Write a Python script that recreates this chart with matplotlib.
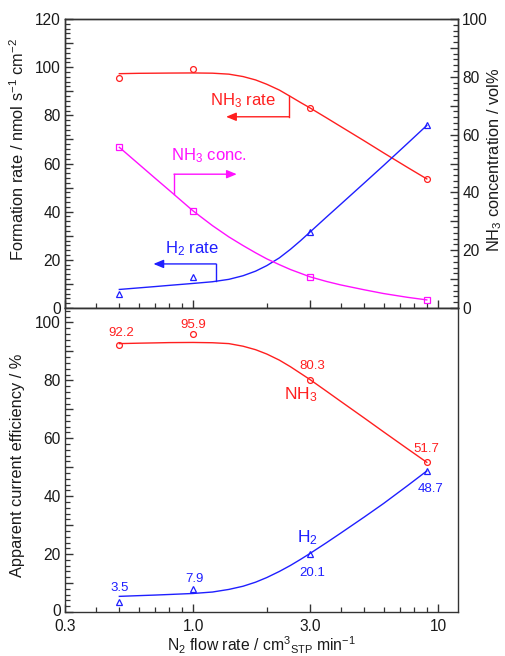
import numpy as np
import matplotlib
matplotlib.use('Agg')
import matplotlib.pyplot as plt
from matplotlib.ticker import FixedLocator, FixedFormatter, NullFormatter, MultipleLocator

plt.rcParams['font.family'] = ['Liberation Sans', 'DejaVu Sans']
plt.rcParams['mathtext.fontset'] = 'custom'
plt.rcParams['mathtext.rm'] = 'Liberation Sans'
plt.rcParams['mathtext.it'] = 'Liberation Sans:italic'
plt.rcParams['mathtext.bf'] = 'Liberation Sans:bold'

# ---------------- data ----------------
flow = [0.5, 1.0, 3.0, 9.0]
nh3_rate = [95.4, 99.3, 83.2, 53.6]
h2_rate = [5.8, 12.7, 31.5, 75.8]
nh3_conc = [55.6, 33.6, 10.8, 2.8]
nh3_eff = [92.2, 95.9, 80.3, 51.7]
h2_eff = [3.5, 7.9, 20.1, 48.7]
nh3_eff_labels = ["92.2", "95.9", "80.3", "51.7"]
h2_eff_labels = ["3.5", "7.9", "20.1", "48.7"]

# fitted curves
fit_x = [0.5, 0.6, 0.7, 0.8, 1.0, 1.2, 1.4, 1.6, 1.8, 2.0, 2.25, 2.5, 2.75,
         3.0, 3.5, 4.0, 5.0, 6.0, 7.5, 9.0]
nh3_rate_fit = [97.3, 97.45, 97.5, 97.55, 97.6, 97.5, 97.1, 96.1, 94.7, 92.9,
                90.5, 87.8, 85.3, 83.1, 79.0, 75.4, 69.4, 64.4, 58.4, 53.6]
h2_rate_fit = [7.7, 8.35, 8.9, 9.4, 10.2, 10.9, 11.9, 13.4, 15.3, 17.6,
               20.8, 24.4, 28.0, 31.5, 37.7, 43.0, 51.9, 59.2, 68.3, 75.8]
nh3_conc_fit = [55.6, 49.8, 44.9, 40.7, 33.6, 28.5, 24.6, 21.6, 19.1, 17.0,
                15.0, 13.3, 12.0, 10.8, 9.2, 8.0, 6.3, 5.0, 3.7, 2.8]
nh3_eff_fit = [92.7, 92.85, 92.95, 93.05, 93.1, 93.0, 92.7, 91.8, 90.6, 89.1,
               87.0, 84.7, 82.4, 80.3, 76.3, 72.8, 67.0, 62.2, 56.4, 51.7]
h2_eff_fit = [5.4, 5.65, 5.85, 6.05, 6.4, 6.9, 7.8, 8.9, 10.3, 11.9,
              14.0, 16.1, 18.2, 20.2, 23.9, 27.2, 32.8, 37.5, 43.6, 48.7]

x_ticks = [0.3, 1.0, 3.0, 10.0]
x_ticklabels = ["0.3", "1.0", "3.0", "10"]
x_minor = [0.4, 0.5, 0.6, 0.7, 0.8, 0.9, 2, 4, 5, 6, 7, 8, 9]

RED = '#ff1f1f'
BLUE = '#1f1fff'
MAG = '#ff10ff'
AX = '#333333'
TXT = '#1a1a1a'

W, H = 506, 656
fig = plt.figure(figsize=(W / 100, H / 100), dpi=100)

left, right = 65 / W, 458 / W
ax1 = fig.add_axes([left, (H - 308) / H, right - left, 289 / H])
ax2 = fig.add_axes([left, (H - 612) / H, right - left, 304 / H])
ax1r = ax1.twinx()

for a in (ax1, ax2, ax1r):
    for s in a.spines.values():
        s.set_color(AX)
        s.set_linewidth(1.0)
    a.set_xscale('log')
    a.set_xlim(0.3, 12.07)

def mk(marker, size):
    return dict(marker=marker, mfc='none', mew=0.9, ms=size, ls='none', clip_on=False)

# ---------------- top panel ----------------
ax1.plot(fit_x, nh3_rate_fit, color=RED, lw=1.0)
ax1.plot(flow, nh3_rate, color=RED, **mk('o', 4.2))
ax1.plot(fit_x, h2_rate_fit, color=BLUE, lw=1.0)
ax1.plot(flow, h2_rate, color=BLUE, **mk('^', 4.6))
ax1r.plot(fit_x, nh3_conc_fit, color=MAG, lw=1.0)
ax1r.plot(flow, nh3_conc, color=MAG, **mk('s', 4.0))

ax1.set_ylim(0, 120)
ax1r.set_ylim(0, 100)
ax1.set_yticks(np.arange(0, 121, 10))
ax1.set_yticklabels([str(v) if v % 20 == 0 else '' for v in range(0, 121, 10)])
ax1.yaxis.set_minor_locator(MultipleLocator(2))
ax1r.set_yticks(np.arange(0, 101, 10))
ax1r.set_yticklabels([str(v) if v % 20 == 0 else '' for v in range(0, 101, 10)])
ax1r.yaxis.set_minor_locator(MultipleLocator(2))

def curve_at(xv, xs, ys):
    return float(np.interp(np.log10(xv), np.log10(xs), ys))

# annotation brackets
def bracket(ax, xv, xs, ys, y_end, x_tip, color):
    yc = curve_at(xv, xs, ys)
    ax.plot([xv, xv], [yc, y_end], color=color, lw=1.0)
    ax.annotate('', xy=(x_tip, y_end), xytext=(xv, y_end),
                arrowprops=dict(arrowstyle='-|>,head_length=0.6,head_width=0.25',
                                color=color, lw=1.0,
                                mutation_scale=10, shrinkA=0, shrinkB=0))

bracket(ax1, 2.47, fit_x, nh3_rate_fit, 79.4, 1.364, RED)
bracket(ax1r, 0.836, fit_x, nh3_conc_fit, 46.3, 1.508, MAG)
bracket(ax1, 1.241, fit_x, h2_rate_fit, 18.3, 0.689, BLUE)

ax1.text(1.173, 84.0, 'NH$_3$ rate', color=RED, fontsize=12, ha='left', va='baseline')
ax1r.text(0.811, 51.2, 'NH$_3$ conc.', color=MAG, fontsize=12, ha='left', va='baseline')
ax1.text(0.768, 22.7, 'H$_2$ rate', color=BLUE, fontsize=12, ha='left', va='baseline')

# ---------------- bottom panel ----------------
ax2.plot(fit_x, nh3_eff_fit, color=RED, lw=1.0)
ax2.plot(flow, nh3_eff, color=RED, **mk('o', 4.2))
ax2.plot(fit_x, h2_eff_fit, color=BLUE, lw=1.0)
ax2.plot(flow, h2_eff, color=BLUE, **mk('^', 4.6))
ax2.set_ylim(0, 105)
ax2.set_yticks(np.arange(0, 101, 10))
ax2.set_yticklabels([str(v) if v % 20 == 0 else '' for v in range(0, 101, 10)])
ax2.yaxis.set_minor_locator(MultipleLocator(2))

nh3_off = [(2, 9.5), (0, 6.2), (2, 10.3), (0, 10.6)]
h2_off = [(0, 10.9), (1, 7.2), (2, -22.4), (3.4, -21.3)]
for xv, yv, lab, off in zip(flow, nh3_eff, nh3_eff_labels, nh3_off):
    ax2.annotate(lab, (xv, yv), xytext=off, textcoords='offset pixels',
                 ha='center', va='baseline', color=RED, fontsize=9.5)
for xv, yv, lab, off in zip(flow, h2_eff, h2_eff_labels, h2_off):
    ax2.annotate(lab, (xv, yv), xytext=off, textcoords='offset pixels',
                 ha='center', va='baseline', color=BLUE, fontsize=9.5)

ax2.text(2.36, 73.3, 'NH$_3$', color=RED, fontsize=12.5, ha='left', va='baseline')
ax2.text(2.65, 24.2, 'H$_2$', color=BLUE, fontsize=12.5, ha='left', va='baseline')

# ---------------- ticks ----------------
for a in (ax1, ax2):
    a.xaxis.set_major_locator(FixedLocator(x_ticks))
    a.xaxis.set_minor_locator(FixedLocator(x_minor))
    a.xaxis.set_minor_formatter(NullFormatter())
    a.tick_params(axis='both', which='both', direction='in', colors=AX,
                  labelcolor=TXT, labelsize=11.2, top=False, right=False)
    a.tick_params(axis='both', which='major', length=6, width=1.0)
    a.tick_params(axis='both', which='minor', length=3.5, width=0.9)
    a.tick_params(axis='y', which='major', pad=3)

ax1.xaxis.set_major_formatter(NullFormatter())
ax2.xaxis.set_major_formatter(FixedFormatter(x_ticklabels))
ax2.tick_params(axis='x', which='major', pad=5)
ax2.get_yticklabels()[0].set_verticalalignment('center')

ax1r.tick_params(axis='y', which='both', direction='in', colors=AX,
                 labelcolor=TXT, labelsize=11.2, pad=3)
ax1r.tick_params(axis='y', which='major', length=6, width=1.0)
ax1r.tick_params(axis='y', which='minor', length=3.5, width=0.9)
ax1r.tick_params(axis='x', which='both', bottom=False, top=False, labelbottom=False)

# ---------------- labels ----------------
ax1.set_ylabel('Formation rate / nmol s$^{-1}$ cm$^{-2}$', fontsize=11.8, color=TXT)
ax1.yaxis.set_label_coords(-0.097, 0.547)
ax1r.set_ylabel('NH$_3$ concentration / vol%', fontsize=11.8, color=TXT)
ax1r.yaxis.set_label_coords(1.069, 0.512)
ax2.set_ylabel('Apparent current efficiency / %', fontsize=11.8, color=TXT)
ax2.yaxis.set_label_coords(-0.102, 0.484)
fig.text(261 / W, (H - 651.5) / H,
         'N$_2$ flow rate / cm$^3$$_{\\mathrm{STP}}$ min$^{-1}$',
         fontsize=11.3, color=TXT, ha='center', va='baseline')

fig.savefig('out.png', dpi=100)
